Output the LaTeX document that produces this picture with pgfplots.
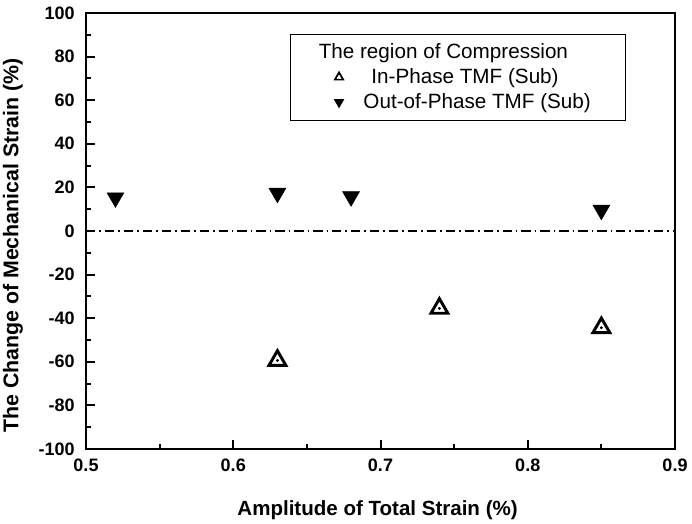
\documentclass[border=0pt]{standalone}
\usepackage{fontspec}
\setmainfont{Liberation Sans}
\usepackage{pgfplots}
\pgfplotsset{compat=1.18}

\begin{document}
\begin{tikzpicture}
\begin{axis}[
  scale only axis, width=441.75pt, height=327pt,
  xmin=0.5, xmax=0.9, ymin=-100, ymax=100,
  xtick={0.5,0.6,0.7,0.8,0.9}, minor x tick num=1,
  ytick={-100,-80,...,100}, minor y tick num=1,
  xtick pos=bottom, ytick pos=left, tick align=inside,
  major tick length=7pt, minor tick length=4pt,
  axis line style={line width=1.5pt},
  every tick/.style={line width=1.5pt, black},
  /pgf/number format/assume math mode=true,
  x tick label style={/pgf/number format/.cd, fixed, fixed zerofill, precision=1, /tikz/.cd},
  tick label style={font=\fontsize{13.5}{16}\selectfont\bfseries},
  xticklabel style={yshift=-4pt},
  yticklabel style={xshift=-5pt},
  xlabel={Amplitude of Total Strain (\%)},
  ylabel={The Change of Mechanical Strain (\%)},
  xlabel style={font=\fontsize{15.4}{18}\selectfont\bfseries,
    at={(axis description cs:0.495,-0.1514)}, anchor=base},
  ylabel style={font=\fontsize{16}{19}\selectfont\bfseries,
    at={(axis description cs:-0.115,0.4667)}, anchor=base},
  legend style={at={(axis description cs:0.346,0.952)}, anchor=north west,
    draw=black, line width=0.75pt, inner xsep=23.75pt, inner ysep=5pt,
    font=\fontsize{15.5}{18}\selectfont, cells={anchor=west}, column sep=3.5pt,
    row sep=2pt},
]
\addlegendimage{empty legend}
\addlegendentry{\hspace*{-33.5pt}The region of Compression}

\addplot[forget plot, black, line width=0.9pt, dash pattern=on 7pt off 3pt on 1.2pt off 3pt]
  coordinates {(0.5,0) (0.9,0)};

\addplot[only marks, mark=triangle*, mark size=7.3pt, black,
  mark options={fill=white, line width=2.2pt},
  legend image code/.code={\path[draw=none,fill=none] (0,0) -- (0.9cm,0);
    \draw[black, line width=1.3pt, mark size=3.6pt, mark options={fill=white}]
    plot[only marks, mark=triangle*] coordinates {(0.45cm,0cm)};}]
  coordinates {(0.63,-59.4) (0.74,-35.5) (0.85,-44.4)};
\addlegendentry{\hspace*{6pt}In-Phase TMF (Sub)}

\addplot[forget plot, only marks, mark=*, mark size=0.9pt, black]
  coordinates {(0.63,-59.4) (0.74,-35.5) (0.85,-44.4)};

\addplot[only marks, mark=triangle*, mark size=7.3pt, black, fill=black,
  mark options={rotate=180},
  legend image code/.code={\path[draw=none,fill=none] (0,0) -- (0.9cm,0);
    \fill[black, mark size=3.8pt]
    plot[only marks, mark=triangle*, mark options={rotate=180}] coordinates {(0.45cm,0cm)};}]
  coordinates {(0.52,15.3) (0.63,17.4) (0.68,15.8) (0.85,9.6)};
\addlegendentry{Out-of-Phase TMF (Sub)}
\end{axis}
\pgfresetboundingbox
\path[use as bounding box] ([shift={(-64.5pt,-56.25pt)}]current axis.south west)
  rectangle ([shift={(12.75pt,9.75pt)}]current axis.north east);
\end{tikzpicture}
\end{document}
